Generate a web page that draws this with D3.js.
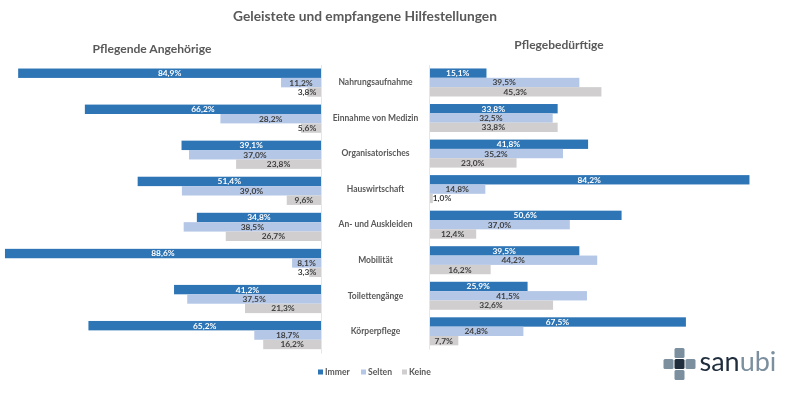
<!DOCTYPE html>
<html lang="de">
<head>
<meta charset="utf-8">
<title>Geleistete und empfangene Hilfestellungen</title>
<script src="https://cdn.jsdelivr.net/npm/d3@7"></script>
<style>
    html, body { margin: 0; padding: 0; background: #fff; }
    /* the reference is a soft, scaled-down screenshot */
    svg { display: block; filter: blur(0.35px); }
    text { font-family: Lato, "Open Sans", sans-serif; font-weight: 700; }
</style>
</head>
<body>
<div id="chart"></div>
<script>
var categories = ['Nahrungsaufnahme','Einnahme von Medizin','Organisatorisches','Hauswirtschaft','An- und Auskleiden','Mobilität','Toilettengänge','Körperpflege'];
var seriesNames = ['Immer','Selten','Keine'];
var seriesColors = ['#2E75B6','#B4C7E7','#D0CECE'];
var labelColors = ['#ffffff','#404040','#404040'];

// Pflegende Angehoerige
var angehoerigeImmer = [84.9,66.2,39.1,51.4,34.8,88.6,41.2,65.2];
var angehoerigeSelten = [11.2,28.2,37.0,39.0,38.5,8.1,37.5,18.7];
var angehoerigeKeine = [3.8,5.6,23.8,9.6,26.7,3.3,21.3,16.2];

// Pflegebeduerftige
var beduerftigeImmer = [15.1,33.8,41.8,84.2,50.6,39.5,25.9,67.5];
var beduerftigeSelten = [39.5,32.5,35.2,14.8,37.0,44.2,41.5,24.8];
var beduerftigeKeine = [45.3,33.8,23.0,1.0,12.4,16.2,32.6,7.7];

var svgWidth = 800;
var svgHeight = 393;

var svg = d3.select('#chart').append('svg')
    .attr('width', svgWidth)
    .attr('height', svgHeight);

var axisLeftX = 321;
var axisRightX = 429;
var pxLeft = 3.567;   // px per percent
var pxRight = 3.806;

var xLeft = d3.scaleLinear().domain([0, 100]).range([axisLeftX, axisLeftX - pxLeft * 100]);
var xRight = d3.scaleLinear().domain([0, 100]).range([axisRightX, axisRightX + pxRight * 100]);

var yLeft = d3.scaleBand().domain(categories).range([64.6, 353.1]).paddingInner(0.218).paddingOuter(0.109);
var yRight = d3.scaleBand().domain(categories).range([64.7, 349.1]).paddingInner(0.212).paddingOuter(0.106);

var fmt = d => d.toFixed(1).replace('.', ',') + '%';

function drawPanel(seriesList, x, y, side) {
    var inner = d3.scaleBand().domain(seriesNames).range([0, y.bandwidth()]);
    var panel = svg.append('g');

    seriesList.forEach((values, s) => {
        var name = seriesNames[s];
        var g = panel.append('g');

        g.selectAll('rect')
            .data(values)
            .join('rect')
            .attr('x', d => Math.min(x(0), x(d)))
            .attr('y', (d, i) => y(categories[i]) + inner(name))
            .attr('width', d => Math.abs(x(d) - x(0)))
            .attr('height', inner.bandwidth())
            .attr('fill', seriesColors[s]);

        // short bars: Excel pushes the label away from the axis so it stays readable
        g.selectAll('text')
            .data(values)
            .join('text')
            .attr('x', d => {
                var mid = (x(0) + x(d)) / 2;
                return side == 'left' ? Math.min(mid, x(0) - 14) : Math.max(mid, x(0) + 13);
            })
            .attr('y', (d, i) => y(categories[i]) + inner(name) + inner.bandwidth() / 2)
            .attr('dy', '0.35em')
            .attr('text-anchor', 'middle')
            .attr('font-size', 8.4)
            .attr('fill', labelColors[s])
            .text(fmt);
    });
}

drawPanel([angehoerigeImmer, angehoerigeSelten, angehoerigeKeine], xLeft, yLeft, 'left');
drawPanel([beduerftigeImmer, beduerftigeSelten, beduerftigeKeine], xRight, yRight, 'right');

// Axis lines without ticks
[[axisLeftX, yLeft], [axisRightX, yRight]].forEach(a => {
    var axisG = svg.append('g')
        .attr('transform', `translate(${a[0]},0)`)
        .call(d3.axisLeft(a[1]).tickSize(0).tickFormat(''));
    axisG.select('.domain').attr('stroke', '#e6e6e6');
});

// Category labels sit between the two panels
var catAxis = svg.append('g')
    .attr('transform', 'translate(375.5,0)')
    .call(d3.axisRight(yRight).tickSize(0).tickPadding(0));
catAxis.select('.domain').remove();
catAxis.selectAll('text')
    .attr('text-anchor', 'middle')
    .attr('font-size', 8.5)
    .attr('fill', '#595959')
    .style('font-family', 'Lato, sans-serif');

// Titles
svg.append('text').attr('x', 365).attr('y', 21).attr('text-anchor', 'middle')
    .attr('font-size', 13.75).attr('fill', '#595959').text('Geleistete und empfangene Hilfestellungen');
svg.append('text').attr('x', 152).attr('y', 53).attr('text-anchor', 'middle')
    .attr('font-size', 12.1).attr('fill', '#595959').text('Pflegende Angehörige');
svg.append('text').attr('x', 559).attr('y', 49).attr('text-anchor', 'middle')
    .attr('font-size', 12).attr('fill', '#595959').text('Pflegebedürftige');

// Legend
var legendX = [318, 361, 402];
var legend = svg.append('g').selectAll('g')
    .data(seriesNames)
    .join('g')
    .attr('transform', (d, i) => `translate(${legendX[i]},372)`);
legend.append('rect')
    .attr('y', -2.5).attr('width', 5).attr('height', 5)
    .attr('fill', (d, i) => seriesColors[i]);
legend.append('text')
    .attr('x', 7).attr('dy', '0.35em')
    .attr('font-size', 8.6).attr('fill', '#595959')
    .text(d => d);

// sanubi logo
var logo = svg.append('g').attr('transform', 'translate(679.5,364)');
var logoCells = [[0,-11,'#7b8f9e'],[-11,0,'#7b8f9e'],[11,0,'#7b8f9e'],[0,11,'#7b8f9e'],[0,0,'#1f2d3d']];
logo.selectAll('rect')
    .data(logoCells)
    .join('rect')
    .attr('x', d => d[0] - 5)
    .attr('y', d => d[1] - 5)
    .attr('width', 10)
    .attr('height', 10)
    .attr('rx', 1.5)
    .attr('fill', d => d[2]);
var logoText = svg.append('text')
    .attr('x', 699.5).attr('y', 371)
    .attr('font-size', 27)
    .style('font-weight', 400);
logoText.append('tspan').attr('fill', '#1f2d3d').text('san');
logoText.append('tspan').attr('fill', '#7b8f9e').text('ubi');
</script>
</body>
</html>
